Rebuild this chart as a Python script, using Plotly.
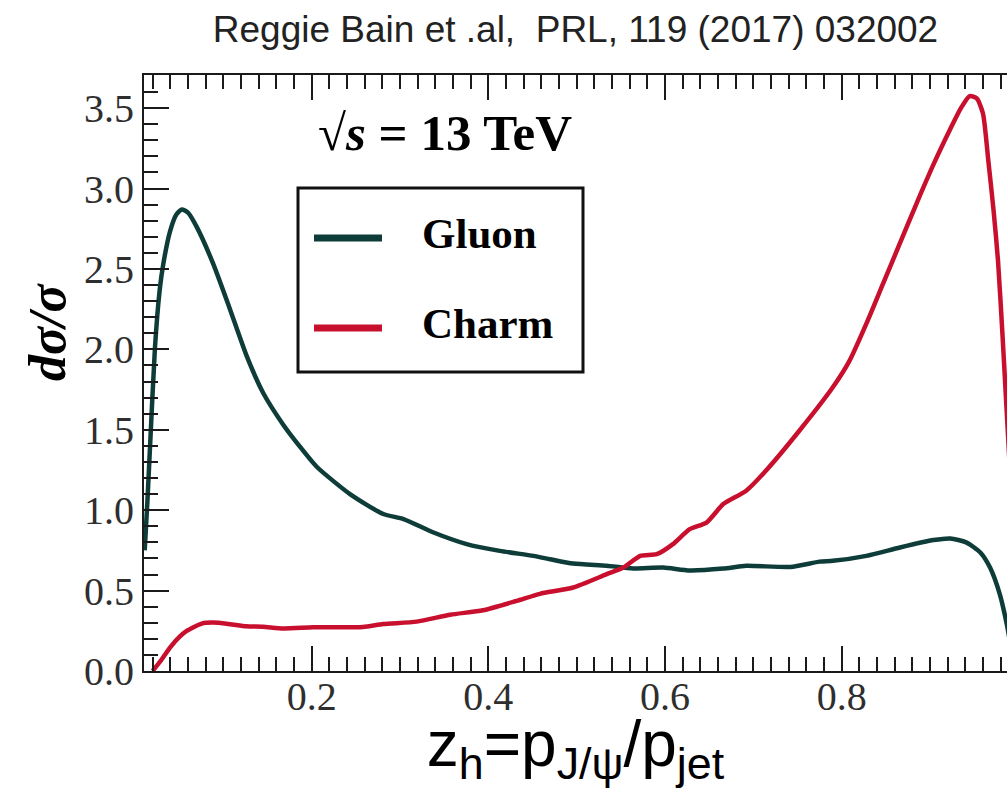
import plotly.graph_objects as go

# ---------------- data ----------------
gluon_x = [0.011, 0.014, 0.017, 0.0226, 0.028, 0.032, 0.040, 0.047, 0.053, 0.060,
           0.070, 0.0887, 0.1075, 0.1264, 0.145, 0.168, 0.186, 0.2057, 0.2434, 0.281,
           0.304, 0.338, 0.3755, 0.413, 0.451, 0.470, 0.496, 0.534, 0.564, 0.598,
           0.628, 0.666, 0.692, 0.742, 0.775, 0.790, 0.828, 0.866, 0.904, 0.923,
           0.941, 0.957, 0.968, 0.979, 0.987, 0.990]
gluon_y = [0.75, 1.05, 1.39, 2.01, 2.37, 2.53, 2.74, 2.84, 2.87, 2.85,
           2.76, 2.53, 2.25, 1.96, 1.73, 1.53, 1.40, 1.27, 1.10, 0.976,
           0.945, 0.861, 0.789, 0.747, 0.716, 0.695, 0.668, 0.654, 0.638, 0.643,
           0.625, 0.637, 0.654, 0.647, 0.68, 0.685, 0.716, 0.768, 0.814, 0.824,
           0.80, 0.737, 0.643, 0.478, 0.29, 0.20]

charm_x = [0.020, 0.030, 0.0396, 0.050, 0.0585, 0.0755, 0.0887, 0.1075, 0.126, 0.145,
           0.168, 0.202, 0.258, 0.281, 0.319, 0.357, 0.394, 0.432, 0.4585, 0.496,
           0.534, 0.553, 0.572, 0.5906, 0.609, 0.628, 0.647, 0.666, 0.692, 0.715,
           0.753, 0.790, 0.809, 0.828, 0.847, 0.866, 0.885, 0.904, 0.923, 0.935,
           0.945, 0.953, 0.960, 0.966, 0.972, 0.977, 0.982, 0.987, 0.990]
charm_y = [0.0, 0.07, 0.145, 0.21, 0.249, 0.295, 0.301, 0.291, 0.278, 0.275,
           0.265, 0.272, 0.274, 0.292, 0.307, 0.35, 0.378, 0.436, 0.48, 0.519,
           0.602, 0.643, 0.716, 0.726, 0.789, 0.882, 0.923, 1.038, 1.121, 1.25,
           1.50, 1.764, 1.93, 2.16, 2.41, 2.66, 2.91, 3.15, 3.37, 3.50,
           3.575, 3.56, 3.467, 3.176, 2.864, 2.553, 2.1, 1.6, 1.3]

series_names = ["Gluon", "Charm"]
x_ticks = [0.2, 0.4, 0.6, 0.8]
y_ticks = [0.0, 0.5, 1.0, 1.5, 2.0, 2.5, 3.0, 3.5]

# ---------------- styling ----------------
GLUON_C = "#0e3d39"
CHARM_C = "#c8102e"
W, H = 1007, 788
ML, MR, MT, MB = 144, 0, 75, 117
PW, PH = W - ML - MR, H - MT - MB


def xp(px):
    return (px - ML) / PW


def yp(py):
    return (H - MB - py) / PH


fig = go.Figure()
fig.add_trace(go.Scatter(x=gluon_x, y=gluon_y, mode="lines", name=series_names[0],
                         line=dict(color=GLUON_C, width=4.5, shape="spline", smoothing=0.6),
                         showlegend=False))
fig.add_trace(go.Scatter(x=charm_x, y=charm_y, mode="lines", name=series_names[1],
                         line=dict(color=CHARM_C, width=4.5, shape="spline", smoothing=0.6),
                         showlegend=False))

tickfont = dict(family="Liberation Serif", size=40, color="#2e2e2e")

fig.update_layout(
    width=W, height=H,
    margin=dict(l=ML, r=MR, t=MT, b=MB, pad=0),
    paper_bgcolor="white", plot_bgcolor="white",
    showlegend=False,
    title=dict(text="Reggie Bain et .al,\u00a0 PRL, 119 (2017) 032002",
               x=0.5 * (ML + W - MR) / W, xanchor="center", y=1 - 29 / H, yanchor="middle",
               font=dict(family="Liberation Sans", size=37, color="#222222")),
    xaxis=dict(range=[0.0102, 0.9872], showgrid=False, zeroline=False,
               showline=True, linecolor="#1a1a1a", linewidth=2, mirror="ticks",
               tickmode="array", tickvals=x_ticks, ticktext=[f"{v:.1f}" for v in x_ticks],
               ticks="inside", ticklen=25, tickwidth=2, tickcolor="#1a1a1a",
               ticklabelstandoff=-11,
               minor=dict(ticks="inside", tick0=0, dtick=0.02, ticklen=14, tickwidth=2,
                          tickcolor="#1a1a1a", showgrid=False),
               tickfont=tickfont,
               title=dict(text="z<sub>h</sub>=p<sub>J/ψ</sub>/p<sub>jet</sub>",
                          font=dict(family="Liberation Sans", size=64, color="black"),
                          standoff=6)),
    yaxis=dict(range=[0, 3.706], showgrid=False, zeroline=False,
               showline=True, linecolor="#1a1a1a", linewidth=2, mirror=False,
               tickmode="array", tickvals=y_ticks, ticktext=[f"{v:.1f}" for v in y_ticks],
               ticks="inside", ticklen=25, tickwidth=2, tickcolor="#1a1a1a",
               minor=dict(ticks="inside", tick0=0, dtick=0.1, ticklen=14, tickwidth=2,
                          tickcolor="#1a1a1a", showgrid=False),
               tickfont=tickfont),
    yaxis2=dict(range=[0, 3.706], overlaying="y", side="right", anchor="x",
                showgrid=False, zeroline=False, showline=False, showticklabels=False,
                tickmode="array", tickvals=y_ticks,
                ticks="inside", ticklen=25, tickwidth=2, tickcolor="#1a1a1a",
                minor=dict(ticks="inside", tick0=0, dtick=0.1, ticklen=14, tickwidth=2,
                           tickcolor="#1a1a1a", showgrid=False)),
)

# y-axis label
fig.add_annotation(text="<b><i>dσ/σ</i></b>", xref="paper", yref="paper",
                   x=xp(47), y=yp(332), xanchor="center", yanchor="middle",
                   textangle=-90, showarrow=False,
                   font=dict(family="Liberation Serif", size=52, color="black"))

# energy label
fig.add_annotation(text="<b>√<i>s</i> = 13 TeV</b>", xref="paper", yref="paper",
                   x=xp(445), y=yp(133), xanchor="center", yanchor="middle",
                   showarrow=False,
                   font=dict(family="Liberation Serif", size=51, color="black"))

# legend box (drawn by hand to match the original)
fig.add_shape(type="rect", xref="paper", yref="paper",
              x0=xp(298), x1=xp(583), y0=yp(372), y1=yp(188),
              line=dict(color="#111111", width=3), fillcolor="white", layer="above")
for name, color, ly in [(series_names[0], GLUON_C, 238), (series_names[1], CHARM_C, 328)]:
    fig.add_shape(type="line", xref="paper", yref="paper",
                  x0=xp(314), x1=xp(382), y0=yp(ly), y1=yp(ly),
                  line=dict(color=color, width=7), layer="above")
    fig.add_annotation(text=f"<b>{name}</b>", xref="paper", yref="paper",
                       x=xp(420), y=yp(ly - 5), xanchor="left", yanchor="middle",
                       showarrow=False,
                       font=dict(family="Liberation Serif", size=43, color="black"))

fig.write_html("out.html")
